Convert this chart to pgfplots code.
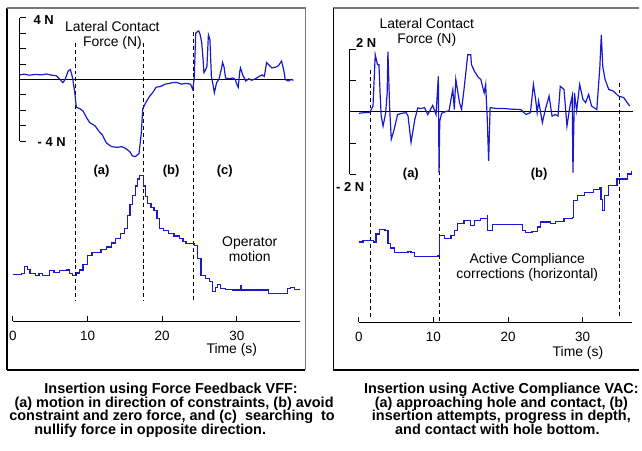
\documentclass[border=0pt]{standalone}
\usepackage{fontspec}
\setmainfont{Liberation Sans}
\usepackage{pgfplots}
\pgfplotsset{compat=1.18}
\definecolor{curve}{RGB}{25,25,205}
\definecolor{boxgray}{RGB}{120,120,120}

\newcommand{\lbl}{\fontsize{14}{15}\selectfont}
\newcommand{\blbl}{\fontsize{13}{14}\selectfont\bfseries}
\newcommand{\capfont}{\fontsize{14.5}{14}\selectfont\bfseries}

\pgfplotsset{
  panel/.style={
    scale only axis, anchor=south west, clip=false,
    axis x line=bottom, axis y line=none,
    axis line style={-, black, line width=1pt},
    xtick={0,10,20,30}, tick align=inside,
    major tick length=5pt, tick style={black, line width=1pt},
    xticklabel style={font=\fontsize{13.5}{14}\selectfont, yshift=-6pt},
    /pgf/number format/assume math mode=true,
  },
  sig/.style={curve, line width=1.2pt},
}
\tikzset{vline/.style={black, line width=0.9pt, dash pattern=on 4pt off 3pt}}

\begin{document}
\begin{tikzpicture}
\begin{scope}[x=1pt,y=1pt]
\useasboundingbox (0,0) rectangle (642,453);
% panel frames
\draw[black, line width=1.2pt] (7,81) -- (7,445);
\draw[boxgray, line width=1.2pt] (7,445) -- (307,445) -- (307,81);
\draw[black, line width=1.2pt] (7,81) -- (307,81);
\draw[boxgray, line width=1.2pt] (335,445) -- (642,445);
\draw[black, line width=1.2pt] (335,445) -- (335,81) -- (642,81);
\end{scope}

% ---------- left panel: force feedback VFF ----------
\begin{axis}[panel, at={(13pt,130pt)}, width=288.75pt, height=315pt,
  xmin=0, xmax=38.5, ymin=-15.68, ymax=4.64]
% force scale bracket
\draw[black, line width=1pt] (axis cs:0.93,-4) -- (axis cs:0.93,4);
\pgfplotsinvokeforeach{-4,-3,-2,-1,0,1,2,3,4}{\draw[black, line width=1pt] (axis cs:0.93,#1) -- ++(6pt,0pt);}
\draw[black, line width=1pt] (axis cs:0.93,0) -- (axis cs:37.6,0);
\draw[vline] (axis cs:8.4,2.39) -- (axis cs:8.4,-14.39);
\draw[vline] (axis cs:17.5,2.39) -- (axis cs:17.5,-14.39);
\draw[vline] (axis cs:24.2,3.1) -- (axis cs:24.2,-14.39);
% lateral contact force (N)
\addplot[sig] coordinates {
(0.9,0.30)(1.5,0.35)(2.2,0.28)(3.0,0.33)(3.8,0.30)(4.5,0.36)(5.2,0.28)(5.8,0.25)
(6.2,0.05)(6.7,-0.2)(7.0,0.0)(7.4,0.55)(7.7,0.65)(8.0,0.1)(8.3,-0.9)(8.5,-1.8)
(9.0,-1.9)(9.4,-2.05)(9.9,-2.5)(10.3,-2.8)(11.0,-3.0)(11.6,-3.4)(12.0,-3.6)
(12.5,-4.1)(13.2,-4.35)(14.0,-4.4)(14.6,-4.35)(15.2,-4.5)(15.7,-4.7)(16.0,-4.95)
(16.4,-5.0)(16.9,-4.8)(17.2,-3.5)(17.4,-1.9)(17.8,-1.5)(18.3,-1.1)(18.8,-0.8)
(19.2,-0.5)(19.8,-0.45)(20.4,-0.3)(21.0,-0.25)(21.4,-0.2)(22.0,-0.2)(22.6,-0.3)
(23.2,-0.25)(23.8,-0.3)(24.1,-0.65)(24.3,0.1)(24.5,3.0)(24.7,3.1)(24.9,3.15)
(25.1,2.9)(25.3,2.4)(25.5,1.2)(25.6,0.45)(25.8,0.6)(26.0,0.85)(26.2,2.9)(26.4,2.6)
(26.6,0.2)(26.8,-0.3)(27.0,-0.85)(27.3,-0.2)(27.6,0.0)(27.9,0.6)(28.1,1.1)(28.3,0.8)
(28.5,0.1)(29.0,0.05)(29.5,0.1)(29.8,0.0)(30.0,-0.3)(30.2,-0.5)(30.4,0.5)(30.5,0.75)
(30.8,0.3)(31.2,-0.1)(31.6,0.05)(32.0,-0.05)(32.5,0.05)(33.0,0.2)(33.4,0.3)(33.7,0.2)
(34.0,1.1)(34.4,0.9)(34.7,0.75)(35.2,0.8)(35.6,0.9)(36.0,1.2)(36.3,0.6)(36.5,0.0)
(36.9,-0.1)(37.3,0.0)(37.6,-0.05)
};
% operator motion (arbitrary units, same scale)
\addplot[sig, const plot] coordinates {
(0,-12.65)(1.2,-12.6)(1.6,-12.1)(2.0,-12.3)(2.3,-12.6)(3.0,-12.7)(3.5,-12.6)
(4.0,-12.7)(4.9,-12.4)(5.5,-12.5)(6.2,-12.4)(7.2,-12.35)(7.6,-12.6)(8.0,-12.7)
(8.5,-12.55)(8.9,-12.35)(9.4,-12.0)(10.0,-11.4)(10.6,-11.2)(11.2,-11.2)(11.8,-11.0)
(12.5,-10.86)(13.2,-10.6)(13.8,-10.32)(14.4,-10.0)(14.9,-9.68)(15.4,-8.8)(15.7,-8.1)
(16.0,-7.5)(16.4,-6.9)(16.7,-6.45)(17.0,-6.2)(17.2,-6.24)(17.5,-6.9)(17.8,-7.6)
(18.0,-8.06)(18.5,-8.3)(18.9,-8.5)(19.3,-9.0)(19.6,-9.68)(20.2,-9.8)(20.9,-10.0)
(21.6,-10.15)(22.3,-10.32)(22.8,-10.5)(23.2,-10.65)(24.3,-10.75)(24.7,-11.6)
(25.2,-12.7)(25.8,-12.9)(26.3,-13.1)(26.7,-13.76)(27.1,-13.5)(27.4,-13.3)
(27.8,-13.55)(28.5,-13.6)(29.4,-13.65)(30.4,-13.65)(30.5,-13.35)(30.6,-13.65)
(32.0,-13.65)(33.8,-13.65)(34.3,-13.9)(35.5,-13.9)(36.5,-13.87)(36.8,-13.55)
(37.2,-13.5)(37.7,-13.6)(38.5,-13.6)
};
\end{axis}

% ---------- right panel: active compliance VAC ----------
\begin{axis}[panel, at={(360.7pt,129pt)}, width=274.5pt, height=316pt,
  xmin=0, xmax=36.6, ymin=-6.72, ymax=3.31]
\draw[black, line width=1pt] (axis cs:-1.2,-2) -- (axis cs:-1.2,2);
\pgfplotsinvokeforeach{-2,-1,0,1,2}{\draw[black, line width=1pt] (axis cs:-1.2,#1) -- ++(6pt,0pt);}
\draw[black, line width=1pt] (axis cs:-1.2,0) -- (axis cs:36.8,0);
\draw[vline] (axis cs:1.55,1.34) -- (axis cs:1.55,-6.6);
\draw[vline] (axis cs:10.8,-1.67) -- (axis cs:10.8,-6.69);
\draw[vline] (axis cs:34.9,0.93) -- (axis cs:34.9,-6.6);
% lateral contact force (N)
\addplot[sig] coordinates {
(0,-0.05)(0.8,-0.03)(1.46,-0.03)(1.9,0.18)(2.2,1.82)(2.5,1.5)(2.7,1.5)(2.85,0.6)
(3.0,-0.14)(3.25,-0.46)(3.6,-0.03)(3.8,0.6)(3.9,1.92)(4.13,0.13)(4.35,-0.88)
(4.7,-0.6)(5.2,-0.09)(5.8,-0.05)(6.35,-0.03)(6.6,-0.14)(7.0,-0.98)(7.5,-0.25)
(7.9,0.12)(8.3,0.1)(8.8,0.13)(9.24,-0.09)(9.9,0.2)(10.35,-0.09)(10.66,1.13)
(10.75,-1.94)(10.85,-0.3)(11.1,-0.05)(11.6,0.0)(12.1,0.03)(12.35,0.39)(12.6,0.71)
(12.8,0.07)(13.0,1.03)(13.5,0.29)(13.77,0.07)(14.1,0.71)(14.6,1.82)(15.0,1.82)
(15.1,1.5)(15.5,1.29)(16.0,1.1)(16.35,1.03)(16.8,0.6)(17.0,0.87)(17.2,-0.14)
(17.4,-1.57)(17.6,0.13)(18.5,0.1)(19.5,0.1)(20.5,0.08)(21.7,0.07)(22.4,-0.09)
(23.0,-0.03)(23.4,0.87)(23.7,0.39)(23.9,-0.03)(24.1,0.34)(24.6,-0.35)(25.0,0.07)
(25.5,0.5)(25.9,-0.14)(26.35,-0.09)(26.7,-0.14)(27.0,0.81)(27.5,0.71)(27.9,-0.46)
(28.3,0.18)(28.6,0.5)(28.7,-1.94)(28.9,0.6)(29.2,0.03)(29.6,0.87)(30.05,0.39)
(30.4,0.29)(30.8,0.55)(31.2,0.18)(31.9,0.07)(32.3,1.4)(32.5,2.45)(32.7,1.44)
(33.0,1.03)(33.5,0.71)(34.1,0.66)(34.8,0.5)(35.5,0.45)(36.3,0.18)
};
% active compliance corrections (arbitrary units)
\addplot[sig, const plot] coordinates {
(0,-4.16)(0.57,-4.1)(2.0,-4.16)(2.3,-3.9)(2.8,-3.76)(3.5,-3.79)(3.9,-4.21)
(4.26,-4.35)(4.8,-4.48)(6.13,-4.5)(6.6,-4.45)(7.0,-4.5)(7.5,-4.63)(9.7,-4.63)
(10.6,-4.6)(10.8,-3.95)(11.5,-4.05)(12.35,-3.95)(12.8,-3.79)(13.2,-3.58)
(14.1,-3.47)(15.0,-3.63)(15.5,-3.47)(16.35,-3.42)(17.2,-3.31)(17.3,-3.79)
(17.9,-3.61)(21.5,-3.61)(21.9,-3.79)(22.35,-3.86)(23.2,-3.82)(23.9,-3.68)
(24.3,-3.52)(25.7,-3.58)(26.35,-3.5)(27.5,-3.42)(28.6,-3.37)(28.8,-2.84)
(29.3,-2.68)(30.2,-2.57)(31.5,-2.49)(32.3,-2.41)(32.45,-2.79)(32.7,-3.15)
(32.9,-2.68)(33.5,-2.36)(34.6,-2.15)(36.0,-1.99)(36.6,-1.89)
};
\end{axis}

\begin{scope}[x=1pt,y=1pt]
% ---------- texts ----------
\node[font=\lbl, align=center] at (113,417.5) {Lateral Contact\\Force (N)};
\node[font=\blbl] at (44,433) {4 N};
\node[font=\blbl] at (52,310) {- 4 N};
\node[font=\blbl] at (102,281) {(a)};
\node[font=\blbl] at (172,281) {(b)};
\node[font=\blbl] at (226,281) {(c)};
\node[font=\lbl, align=center] at (251,202.5) {Operator\\motion};
\node[font=\lbl] at (233,101) {Time (s)};

\node[font=\lbl, align=center] at (429,420) {Lateral Contact\\Force (N)};
\node[font=\blbl] at (368,410) {2 N};
\node[font=\blbl] at (352,265) {- 2 N};
\node[font=\blbl] at (413,278) {(a)};
\node[font=\blbl] at (542,278) {(b)};
\node[font=\lbl, align=center] at (530,184.5) {Active Compliance\\corrections (horizontal)};
\node[font=\lbl] at (581,98) {Time (s)};

% captions
\node[font=\capfont, anchor=base] at (172,57) {Insertion using Force Feedback VFF:};
\node[font=\capfont, anchor=base] at (175,43.5) {(a) motion in direction of constraints, (b) avoid};
\node[font=\capfont, anchor=base] at (173,30) {constraint and zero force, and (c)\ \ searching\ \ to};
\node[font=\capfont, anchor=base] at (151,16.5) {nullify force in opposite direction.};

\node[font=\capfont, anchor=base] at (504,57) {Insertion using Active Compliance VAC:};
\node[font=\capfont, anchor=base] at (504,43.5) {(a) approaching hole and contact, (b)};
\node[font=\capfont, anchor=base] at (504,30) {insertion attempts, progress in depth,};
\node[font=\capfont, anchor=base] at (500,16.5) {and contact with hole bottom.};
\end{scope}
\end{tikzpicture}
\end{document}
